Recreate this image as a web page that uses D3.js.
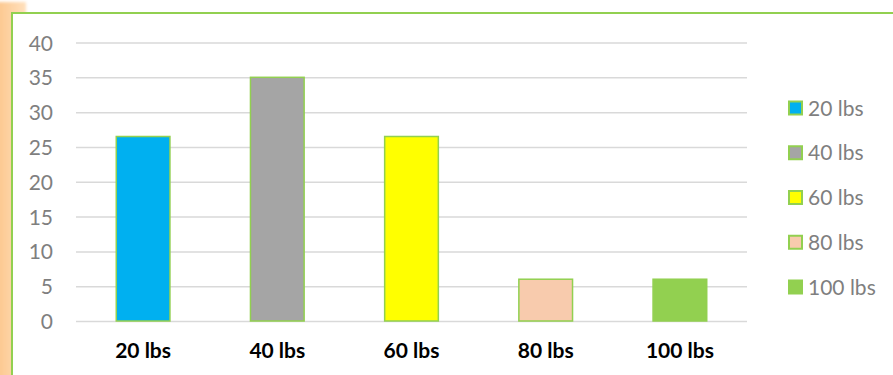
<!DOCTYPE html>
<html>
<head>
<meta charset="utf-8">
<script src="https://cdn.jsdelivr.net/npm/d3@7"></script>
<style>
  html, body { margin: 0; padding: 0; background: #ffffff; }
  svg { display: block; }
  text { font-family: Lato, "Open Sans", sans-serif; }
</style>
</head>
<body>
<div id="chart"></div>
<script>
// Weight classes and the share of each (percent)
const categories = ["20 lbs", "40 lbs", "60 lbs", "80 lbs", "100 lbs"];
const values = [26.5, 35, 26.5, 6, 6];
const barColors = ["#00B0F0", "#A5A5A5", "#FFFF00", "#F8CBAD", "#92D050"];
const yTicks = [0, 5, 10, 15, 20, 25, 30, 35, 40];

const W = 893, H = 375;
const frameGreen = "#92D050";

const svg = d3.select("#chart").append("svg")
  .attr("width", W).attr("height", H);

const defs = svg.append("defs");
const grad = defs.append("linearGradient").attr("id", "sideStrip")
  .attr("x1", "0").attr("x2", "1").attr("y1", "0").attr("y2", "0");
grad.append("stop").attr("offset", "0%").attr("stop-color", "#FCC68C");
grad.append("stop").attr("offset", "100%").attr("stop-color", "#FFE0BC");
defs.append("filter").attr("id", "soft")
  .attr("x", "-20%").attr("y", "-20%").attr("width", "140%").attr("height", "140%")
  .append("feGaussianBlur").attr("stdDeviation", 1.5);

// Peach tab peeking out behind the chart frame
svg.append("rect")
  .attr("x", -4).attr("y", 2).attr("width", 30).attr("height", H + 10)
  .attr("fill", "url(#sideStrip)").attr("filter", "url(#soft)");

// Chart frame (runs off the right and bottom edges)
svg.append("rect")
  .attr("x", 12).attr("y", 13).attr("width", W + 20).attr("height", H + 20)
  .attr("fill", "#ffffff").attr("stroke", frameGreen).attr("stroke-width", 2);

const plot = { left: 76, right: 747, top: 42.5, bottom: 321 };

const x = d3.scaleBand().domain(categories)
  .range([plot.left, plot.right]).paddingInner(0.6).paddingOuter(0.3);
const y = d3.scaleLinear().domain([0, 40]).range([plot.bottom, plot.top]);

// Horizontal gridlines
const grid = svg.append("g")
  .attr("transform", `translate(${plot.left},0)`)
  .call(d3.axisLeft(y).tickValues(yTicks).tickSize(-(plot.right - plot.left)).tickFormat(""));
grid.select(".domain").remove();
grid.selectAll(".tick line").attr("stroke", "#D9D9D9").attr("stroke-width", 1.5);

// Y tick labels
const yAxis = svg.append("g")
  .attr("transform", "translate(53,0)")
  .call(d3.axisLeft(y).tickValues(yTicks).tickSize(0).tickPadding(0));
yAxis.select(".domain").remove();
yAxis.selectAll(".tick text")
  .attr("fill", "#7F7F7F").attr("font-size", 21).attr("font-family", "Lato, 'Open Sans', sans-serif")
  .attr("dy", "0.36em");

// Bars
svg.append("g").selectAll("rect").data(categories).join("rect")
  .attr("x", d => x(d))
  .attr("y", (d, i) => y(values[i]))
  .attr("width", x.bandwidth())
  .attr("height", (d, i) => y(0) - y(values[i]))
  .attr("fill", (d, i) => barColors[i])
  .attr("stroke", frameGreen).attr("stroke-width", 1.5);

// Category labels
const xAxis = svg.append("g")
  .attr("transform", `translate(0,${plot.bottom})`)
  .call(d3.axisBottom(x).tickSize(0).tickPadding(0));
xAxis.select(".domain").remove();
xAxis.selectAll(".tick text")
  .attr("y", 37).attr("dy", 0)
  .attr("fill", "#000000").attr("font-size", 21).attr("font-weight", "bold")
  .attr("font-family", "Lato, 'Open Sans', sans-serif");

// Legend
const legendY = d3.scalePoint().domain(categories).range([108, 287]);
const legend = svg.append("g").selectAll("g").data(categories).join("g")
  .attr("transform", d => `translate(789,${legendY(d)})`);
legend.append("rect")
  .attr("x", 0).attr("y", -6.5).attr("width", 13).attr("height", 13)
  .attr("fill", (d, i) => barColors[i])
  .attr("stroke", frameGreen).attr("stroke-width", 2);
legend.append("text")
  .attr("x", 19).attr("y", 0).attr("dy", "0.36em")
  .attr("fill", "#7F7F7F").attr("font-size", 21)
  .text(d => d);
</script>
</body>
</html>
